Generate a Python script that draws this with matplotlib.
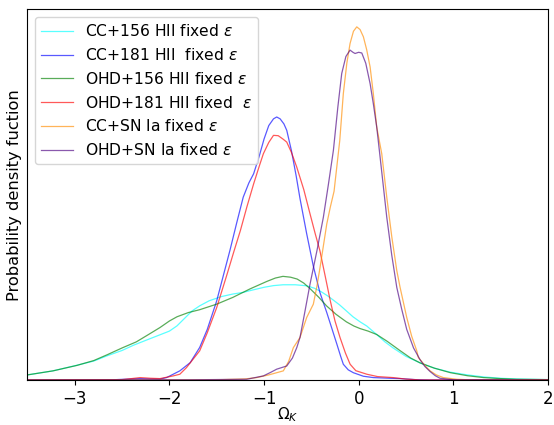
import numpy as np
import matplotlib
matplotlib.use("Agg")
import matplotlib.pyplot as plt

labels = [
    "CC+156 HII fixed $\\epsilon$",
    "CC+181 HII  fixed $\\epsilon$",
    "OHD+156 HII fixed $\\epsilon$",
    "OHD+181 HII fixed  $\\epsilon$",
    "CC+SN Ia fixed $\\epsilon$",
    "OHD+SN Ia fixed $\\epsilon$",
]

cc156_x = [-3.5, -3.23, -2.98, -2.80, -2.66, -2.50, -2.38, -2.25, -2.10, -2.00, -1.92, -1.85, -1.76, -1.68,
           -1.58, -1.45, -1.33, -1.22, -1.12, -1.00, -0.90, -0.80, -0.67, -0.55, -0.47, -0.40, -0.33,
           -0.27, -0.20, -0.13, -0.06, 0.015, 0.086, 0.20, 0.28, 0.364, 0.50, 0.65, 0.80, 0.97, 1.15,
           1.32, 1.50, 1.67, 2.0]
cc156_y = [0.030, 0.054, 0.087, 0.112, 0.143, 0.175, 0.206, 0.235, 0.268, 0.290, 0.321, 0.360, 0.410, 0.440,
           0.470, 0.495, 0.510, 0.520, 0.534, 0.550, 0.560, 0.565, 0.565, 0.559, 0.545, 0.525, 0.500,
           0.475, 0.445, 0.410, 0.375, 0.345, 0.320, 0.265, 0.225, 0.190, 0.140, 0.101, 0.070, 0.046, 0.030,
           0.018, 0.010, 0.006, 0.002]

cc181_x = [-3.5, -2.6, -2.40, -2.31, -2.20, -2.10, -2.03, -1.96, -1.89, -1.78, -1.68, -1.60, -1.50, -1.43,
           -1.36, -1.29, -1.22, -1.16, -1.11, -1.05, -1.00, -0.95, -0.90, -0.866, -0.83, -0.79, -0.76,
           -0.71, -0.66, -0.62, -0.55, -0.48, -0.41, -0.337, -0.28, -0.23, -0.19, -0.162, -0.11, -0.056,
           0.05, 0.155, 0.33, 0.44, 0.60, 0.75, 2.0]
cc181_y = [0.0, 0.001, 0.006, 0.008, 0.006, 0.005, 0.014, 0.034, 0.054, 0.103, 0.193, 0.300, 0.470, 0.620,
           0.770, 0.930, 1.085, 1.170, 1.224, 1.330, 1.430, 1.510, 1.550, 1.561, 1.550, 1.520, 1.482,
           1.360, 1.210, 1.077, 0.870, 0.678, 0.520, 0.400, 0.300, 0.212, 0.140, 0.093, 0.060, 0.043,
           0.022, 0.014, 0.010, 0.008, 0.002, 0.0, 0.0]

ohd156_x = [-3.5, -3.23, -2.98, -2.80, -2.66, -2.50, -2.35, -2.22, -2.10, -2.00, -1.92, -1.80, -1.68, -1.50,
            -1.33, -1.15, -0.97, -0.88, -0.80, -0.72, -0.65, -0.58, -0.51, -0.42, -0.34, -0.24, -0.13,
            -0.05, 0.015, 0.10, 0.19, 0.30, 0.44, 0.55, 0.65, 0.80, 0.97, 1.15, 1.32, 1.50, 1.67, 2.0]
ohd156_y = [0.030, 0.054, 0.086, 0.115, 0.149, 0.190, 0.226, 0.270, 0.311, 0.350, 0.375, 0.400, 0.417, 0.450,
            0.490, 0.540, 0.585, 0.605, 0.615, 0.610, 0.599, 0.575, 0.540, 0.490, 0.440, 0.390, 0.345,
            0.320, 0.305, 0.290, 0.270, 0.230, 0.173, 0.130, 0.101, 0.070, 0.043, 0.025, 0.014, 0.008,
            0.004, 0.002]

ohd181_x = [-3.5, -2.5, -2.40, -2.31, -2.20, -2.10, -1.96, -1.89, -1.82, -1.68, -1.60, -1.50, -1.39, -1.32,
            -1.25, -1.18, -1.11, -1.05, -1.007, -0.95, -0.90, -0.85, -0.80, -0.76, -0.71, -0.654, -0.58,
            -0.514, -0.46, -0.41, -0.355, -0.30, -0.25, -0.197, -0.14, -0.09, -0.03, 0.086, 0.20, 0.364,
            0.50, 0.65, 2.0]
ohd181_y = [0.0, 0.002, 0.008, 0.014, 0.010, 0.008, 0.024, 0.034, 0.073, 0.173, 0.280, 0.430, 0.629, 0.760,
            0.887, 1.030, 1.164, 1.270, 1.343, 1.410, 1.452, 1.450, 1.430, 1.412, 1.350, 1.263, 1.130,
            0.986, 0.870, 0.768, 0.620, 0.470, 0.350, 0.252, 0.160, 0.093, 0.055, 0.034, 0.020, 0.014,
            0.005, 0.0, 0.0]

ccsn_x = [-3.5, -1.5, -1.2, -1.077, -0.95, -0.866, -0.796, -0.74, -0.69, -0.62, -0.549, -0.479, -0.44,
          -0.408, -0.337, -0.30, -0.26, -0.20, -0.162, -0.125, -0.091, -0.055, -0.020, 0.015, 0.050,
          0.085, 0.121, 0.155, 0.191, 0.244, 0.297, 0.35, 0.403, 0.438, 0.508, 0.56, 0.614, 0.631,
          0.68, 0.72, 0.755, 0.82, 0.895, 1.037, 1.2, 2.0]
ccsn_y = [0.0, 0.001, 0.006, 0.014, 0.030, 0.043, 0.054, 0.110, 0.192, 0.252, 0.371, 0.450, 0.560,
          0.668, 0.926, 1.025, 1.120, 1.420, 1.700, 1.880, 1.997, 2.070, 2.096, 2.080, 2.037,
          1.960, 1.858, 1.700, 1.501, 1.343, 1.085, 0.850, 0.649, 0.549, 0.371, 0.260, 0.173, 0.133,
          0.100, 0.073, 0.054, 0.030, 0.014, 0.004, 0.0, 0.0]

ohdsn_x = [-3.5, -1.8, -1.57, -1.183, -1.007, -0.93, -0.866, -0.76, -0.70, -0.654, -0.62, -0.57, -0.514,
           -0.44, -0.373, -0.32, -0.267, -0.22, -0.179, -0.135, -0.091, -0.06, -0.038, 0.0, 0.033, 0.075,
           0.121, 0.155, 0.191, 0.245, 0.297, 0.35, 0.403, 0.455, 0.508, 0.58, 0.649, 0.70, 0.755, 0.81,
           0.86, 1.0, 2.0]
ohdsn_y = [0.0, 0.001, 0.002, 0.004, 0.024, 0.045, 0.064, 0.083, 0.130, 0.192, 0.252, 0.400, 0.569,
           0.770, 0.966, 1.160, 1.363, 1.620, 1.819, 1.920, 1.958, 1.945, 1.938, 1.945, 1.941, 1.880,
           1.759, 1.640, 1.501, 1.230, 0.966, 0.740, 0.549, 0.420, 0.300, 0.190, 0.120, 0.080, 0.050, 0.025,
           0.010, 0.001, 0.0]

series_x = [cc156_x, cc181_x, ohd156_x, ohd181_x, ccsn_x, ohdsn_x]
series_y = [cc156_y, cc181_y, ohd156_y, ohd181_y, ccsn_y, ohdsn_y]
colors = ["cyan", "blue", "green", "red", "darkorange", "indigo"]

fig = plt.figure(figsize=(5.54, 4.25), dpi=100)
ax = fig.add_axes([0.0496, 0.106, 0.9394, 0.872])

for xs, ys, c, lab in zip(series_x, series_y, colors, labels):
    ax.plot(xs, ys, color=c, alpha=0.65, lw=0.9, label=lab)

ax.set_xlim(-3.5, 2.0)
ax.set_ylim(0, 2.2)
ax.set_yticks([])
ax.set_xticks([-3, -2, -1, 0, 1, 2])
ax.tick_params(axis="x", labelsize=12)
ax.set_xlabel("$\\Omega_K$", fontsize=11, labelpad=-1.5)
ax.set_ylabel("Probability density fuction", fontsize=11.7)
ax.legend(loc="upper left", fontsize=11.2)

fig.savefig("out.png", dpi=100)
